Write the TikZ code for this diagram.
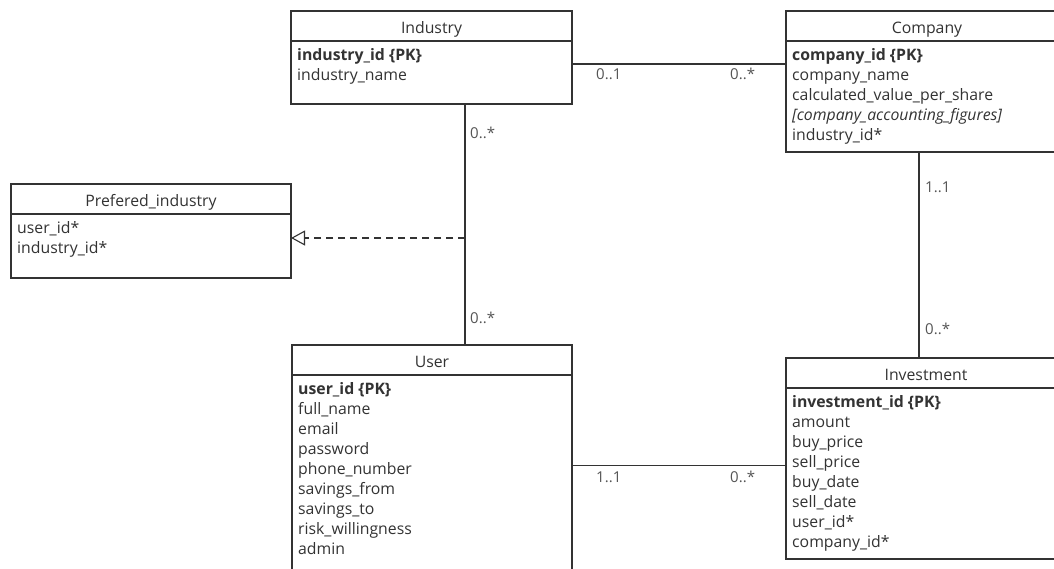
\documentclass[tikz,border=0pt]{standalone}
\usepackage{fontspec}
\setmainfont{Open Sans}
\usetikzlibrary{arrows.meta,calc}
\definecolor{ink}{HTML}{333333}
\definecolor{multc}{HTML}{555555}

% one UML class box: #1 name, #2 x, #3 y, #4 width, #5 height, #6 title
\newcommand{\umlentity}[6]{%
  \node[box, minimum width=#4pt, minimum height=#5pt] (#1) at (#2,#3) {};
  \draw[link] ([yshift=-30pt]#1.north west) -- ([yshift=-30pt]#1.north east);
  \node[title] (#1-title) at ([yshift=-22pt]#1.north) {#6};
}
% attribute rows of a class box: #1 name, #2 list of rows
\newcommand{\umlattrs}[2]{%
  \foreach \t [count=\i] in {#2} {
    \node[attr] (#1-a\i) at ($(#1.north west)+(6,{49+20*(\i-1)})$) {\t};
  }
}

\begin{document}
\begin{tikzpicture}[x=1pt,y=-1pt,
  box/.style={draw=ink, line width=1.1pt, rectangle, anchor=north west, inner sep=0pt, outer sep=0pt},
  title/.style={text=ink, font=\fontsize{15.8}{18}\selectfont, anchor=base, inner sep=0pt},
  attr/.style={text=ink, font=\fontsize{15.8}{18}\selectfont, anchor=base west, inner sep=0pt},
  mult/.style={text=multc, font=\fontsize{15}{17}\selectfont, anchor=base west, inner sep=0pt},
  link/.style={draw=ink, line width=1.1pt},
  realize/.style={link, dash pattern=on 7pt off 5pt, -{Triangle[open, length=14pt, width=15pt]}},
]
\useasboundingbox (0,0) rectangle (1054,568);
\fill[white] (0,0) rectangle (1054,568);
\clip (0,0) rectangle (1054,568);

% classes
\umlentity{ind}{291}{11}{281}{93}{Industry}
\umlattrs{ind}{{\textbf{industry\_id \{PK\}}}, industry\_name}

\umlentity{comp}{786}{11}{282}{141}{Company}
\umlattrs{comp}{{\textbf{company\_id \{PK\}}}, company\_name, calculated\_value\_per\_share, {\textit{[company\_accounting\_figures]}}, industry\_id*}

\umlentity{pref}{11}{184}{280}{94}{Prefered\_industry}
\umlattrs{pref}{user\_id*, industry\_id*}

\umlentity{usr}{292}{345}{280}{240}{User}
\umlattrs{usr}{{\textbf{user\_id \{PK\}}}, full\_name, email, password, phone\_number, savings\_from, savings\_to, risk\_willingness, admin}

\umlentity{inv}{786}{358}{280}{201}{Investment}
\umlattrs{inv}{{\textbf{investment\_id \{PK\}}}, amount, buy\_price, sell\_price, buy\_date, sell\_date, user\_id*, company\_id*}

% associations
\draw[link] ([yshift=-6.5pt]ind.east) -- ([yshift=-6.5pt]ind.east -| comp.west);
\coordinate (iu) at ([xshift=33.5pt]ind.south);
\draw[link] (iu) -- (iu |- usr.north);
\coordinate (ci) at ([xshift=-8pt]comp.south);
\draw[link] (ci) -- (ci |- inv.north);
\coordinate (ui) at ([yshift=-0.5pt]usr.east);
\draw[link] (ui) -- (ui -| inv.west);
\coordinate (pe) at ([yshift=-7pt]pref.east);
\draw[realize] (iu |- pe) -- (pe);

% multiplicities
\node[mult] (m-ic1) at (596,79) {0..1};
\node[mult] (m-ic2) at (730,79) {0..*};
\node[mult] (m-iu1) at (470,138) {0..*};
\node[mult] (m-iu2) at (470,323) {0..*};
\node[mult] (m-ci1) at (925,192) {1..1};
\node[mult] (m-ci2) at (925,334) {0..*};
\node[mult] (m-ui1) at (596,482) {1..1};
\node[mult] (m-ui2) at (730,482) {0..*};
\end{tikzpicture}
\end{document}
